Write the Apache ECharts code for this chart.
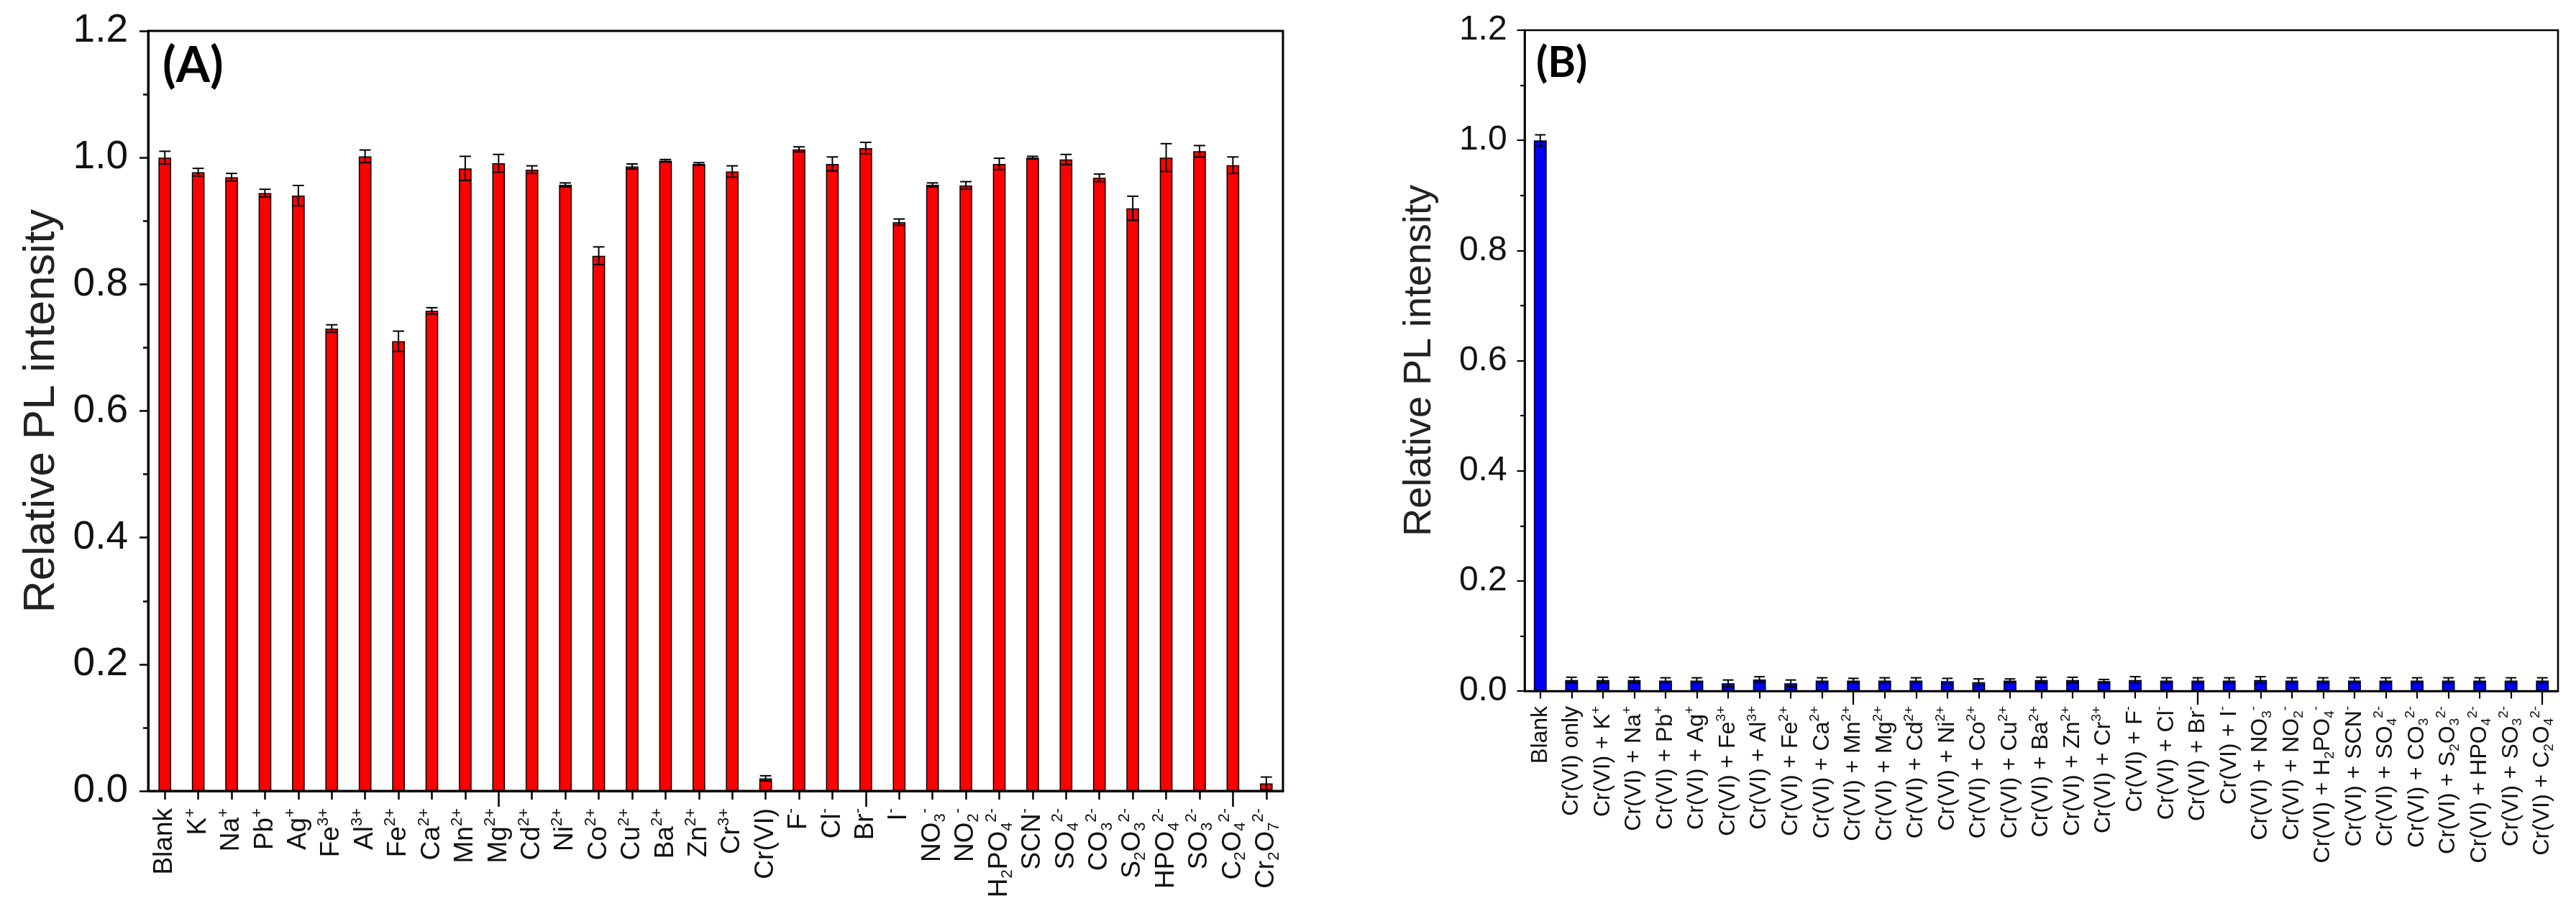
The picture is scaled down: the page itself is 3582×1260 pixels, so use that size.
<!DOCTYPE html>
<html>
<head>
<meta charset="utf-8">
<script src="https://cdn.jsdelivr.net/npm/echarts@6/dist/echarts.min.js"></script>
<style>html,body{margin:0;padding:0;background:#fff}#c{width:3582px;height:1260px}</style>
</head>
<body>
<div id="c"></div>
<script>
// ---------- Data ----------
const categoriesA = ['Blank','K{sp|+}','Na{sp|+}','Pb{sp|+}','Ag{sp|+}','Fe{sp|3+}','Al{sp|3+}','Fe{sp|2+}','Ca{sp|2+}','Mn{sp|2+}','Mg{sp|2+}','Cd{sp|2+}','Ni{sp|2+}','Co{sp|2+}','Cu{sp|2+}','Ba{sp|2+}','Zn{sp|2+}','Cr{sp|3+}','Cr(VI)','F{sp|-}','Cl{sp|-}','Br{sp|-}','I{sp|-}','NO{sb|3}{sp|-}','NO{sb|2}{sp|-}','H{sb|2}PO{sb|4}{sp|2-}','SCN{sp|-}','SO{sb|4}{sp|2-}','CO{sb|3}{sp|2-}','S{sb|2}O{sb|3}{sp|2-}','HPO{sb|4}{sp|2-}','SO{sb|3}{sp|2-}','C{sb|2}O{sb|4}{sp|2-}','Cr{sb|2}O{sb|7}{sp|2-}'];
const valuesA = [1.000,0.977,0.969,0.944,0.940,0.730,1.002,0.710,0.758,0.983,0.991,0.981,0.957,0.845,0.986,0.995,0.990,0.978,0.020,1.013,0.990,1.015,0.898,0.957,0.956,0.990,1.000,0.997,0.968,0.920,1.000,1.010,0.988,0.012];
const errorsA = [0.010,0.006,0.006,0.006,0.016,0.006,0.010,0.016,0.005,0.019,0.014,0.006,0.003,0.014,0.004,0.002,0.002,0.009,0.004,0.004,0.011,0.009,0.005,0.003,0.006,0.009,0.002,0.008,0.006,0.019,0.022,0.009,0.013,0.010];

const categoriesB = ['Blank','Cr(VI) only','Cr(VI) + K{sp|+}','Cr(VI) + Na{sp|+}','Cr(VI) + Pb{sp|+}','Cr(VI) + Ag{sp|+}','Cr(VI) + Fe{sp|3+}','Cr(VI) + Al{sp|3+}','Cr(VI) + Fe{sp|2+}','Cr(VI) + Ca{sp|2+}','Cr(VI) + Mn{sp|2+}','Cr(VI) + Mg{sp|2+}','Cr(VI) + Cd{sp|2+}','Cr(VI) + Ni{sp|2+}','Cr(VI) + Co{sp|2+}','Cr(VI) + Cu{sp|2+}','Cr(VI) + Ba{sp|2+}','Cr(VI) + Zn{sp|2+}','Cr(VI) + Cr{sp|3+}','Cr(VI) + F{sp|-}','Cr(VI) + Cl{sp|-}','Cr(VI) + Br{sp|-}','Cr(VI) + I{sp|-}','Cr(VI) + NO{sb|3}{sp|-}','Cr(VI) + NO{sb|2}{sp|-}','Cr(VI) + H{sb|2}PO{sb|4}{sp|-}','Cr(VI) + SCN{sp|-}','Cr(VI) + SO{sb|4}{sp|2-}','Cr(VI) + CO{sb|3}{sp|2-}','Cr(VI) + S{sb|2}O{sb|3}{sp|2-}','Cr(VI) + HPO{sb|4}{sp|2-}','Cr(VI) + SO{sb|3}{sp|2-}','Cr(VI) + C{sb|2}O{sb|4}{sp|2-}'];
const valuesB = [1.000,0.020,0.020,0.020,0.019,0.019,0.014,0.021,0.014,0.019,0.019,0.019,0.019,0.018,0.016,0.019,0.020,0.020,0.018,0.020,0.019,0.019,0.019,0.020,0.019,0.019,0.019,0.019,0.019,0.019,0.019,0.019,0.019];
const errorsB = [0.010,0.005,0.005,0.005,0.005,0.005,0.006,0.005,0.006,0.005,0.004,0.005,0.005,0.005,0.006,0.003,0.005,0.005,0.003,0.006,0.005,0.005,0.005,0.006,0.005,0.005,0.005,0.005,0.005,0.005,0.005,0.005,0.005];

const yTicks = [0.0, 0.2, 0.4, 0.6, 0.8, 1.0, 1.2];

// ---------- Chart ----------
const FONT = 'Liberation Sans';
const chart = echarts.init(document.getElementById('c'), null, {renderer: 'canvas'});

// s = scale of styling for each panel (panel B is drawn a bit smaller)
function richFor(s) {
  const f = Math.round(22 * s);
  return {
    sp: {fontSize: f, lineHeight: f, verticalAlign: 'top', fontFamily: FONT, color: '#111'},
    sb: {fontSize: f, lineHeight: f, verticalAlign: 'bottom', fontFamily: FONT, color: '#111'}
  };
}

function xAxes(cats, gridIndex, s) {
  return [{
    type: 'category', gridIndex, data: cats, position: 'bottom',
    axisLine: {show: true, lineStyle: {color: '#000', width: 3 * s}},
    axisTick: {show: true, alignWithLabel: true, inside: false, length: 12 * s, lineStyle: {color: '#000', width: 2.5 * s}},
    axisLabel: {show: true, interval: 0, rotate: 90, fontSize: Math.round(37 * s), lineHeight: Math.round(44 * s),
                fontFamily: FONT, color: '#111', margin: 24 * s, rich: richFor(s)},
    splitLine: {show: false}
  }, {
    type: 'category', gridIndex, data: cats, position: 'bottom',
    axisLine: {show: false},
    axisTick: {show: true, alignWithLabel: true, length: 22 * s, interval: (i) => i % 11 === 10, lineStyle: {color: '#000', width: 2.5 * s}},
    axisLabel: {show: false},
    splitLine: {show: false}
  }];
}

function yAxis(gridIndex, s, gap) {
  return {
    type: 'value', gridIndex, min: yTicks[0], max: yTicks[yTicks.length - 1], interval: 0.2,
    name: 'Relative PL intensity', nameLocation: 'middle', nameGap: gap,
    nameTextStyle: {fontSize: Math.round(62 * s), fontFamily: FONT, color: '#222'},
    axisLine: {show: true, lineStyle: {color: '#000', width: 3 * s}},
    axisTick: {show: true, inside: false, length: 12 * s, lineStyle: {color: '#000', width: 2.5 * s}},
    minorTick: {show: true, splitNumber: 2, length: 7 * s, lineStyle: {color: '#000', width: 2.5 * s}},
    axisLabel: {fontSize: Math.round(55 * s), fontFamily: FONT, color: '#111', margin: 28 * s, formatter: v => v.toFixed(1)},
    splitLine: {show: false}
  };
}

function errRender(params, api) {
  const x = api.value(0), v = api.value(1), e = api.value(2);
  const top = api.coord([x, v + e]);
  const bot = api.coord([x, v - e]);
  const half = api.size([1, 0])[0] * 0.17;
  const st = {stroke: '#000', lineWidth: 2};
  return {type: 'group', children: [
    {type: 'line', shape: {x1: top[0], y1: top[1], x2: bot[0], y2: bot[1]}, style: st},
    {type: 'line', shape: {x1: top[0] - half, y1: top[1], x2: top[0] + half, y2: top[1]}, style: st},
    {type: 'line', shape: {x1: bot[0] - half, y1: bot[1], x2: bot[0] + half, y2: bot[1]}, style: st}
  ]};
}

const SB = 0.87;
const option = {
  backgroundColor: '#fff',
  animation: false,
  textStyle: {fontFamily: FONT},
  title: [
    {text: '(A)', left: 226, top: 58, padding: 0, textStyle: {fontSize: 68, fontWeight: 'bold', fontFamily: 'Lato', color: '#000'}},
    {text: '(B)', left: 2136, top: 58, padding: 0, textStyle: {fontSize: 59, fontWeight: 'bold', fontFamily: 'Lato', color: '#000'}}
  ],
  grid: [
    {left: 206, right: 3582 - 1784, top: 43, bottom: 1260 - 1100, show: true, borderColor: '#000', borderWidth: 3,
     containLabel: false, outerBoundsMode: 'none'},
    {left: 2120, right: 3582 - 3557, top: 42, bottom: 1260 - 961, show: true, borderColor: '#000', borderWidth: 2.6,
     containLabel: false, outerBoundsMode: 'none'}
  ],
  xAxis: [...xAxes(categoriesA, 0, 1), ...xAxes(categoriesB, 1, SB)],
  yAxis: [yAxis(0, 1, 117), yAxis(1, SB, 119)],
  series: [
    {type: 'bar', xAxisIndex: 0, yAxisIndex: 0, data: valuesA, barWidth: '38%',
     itemStyle: {color: '#ff0000', borderColor: '#000', borderWidth: 1.5}},
    {type: 'custom', xAxisIndex: 0, yAxisIndex: 0, renderItem: errRender, z: 5,
     data: valuesA.map((v, i) => [i, v, errorsA[i]])},
    {type: 'bar', xAxisIndex: 2, yAxisIndex: 1, data: valuesB, barWidth: '41%',
     itemStyle: {color: '#0000ff', borderColor: '#000', borderWidth: 1.5}},
    {type: 'custom', xAxisIndex: 2, yAxisIndex: 1, renderItem: errRender, z: 5,
     data: valuesB.map((v, i) => [i, v, errorsB[i]])}
  ]
};
chart.setOption(option);
</script>
</body>
</html>
